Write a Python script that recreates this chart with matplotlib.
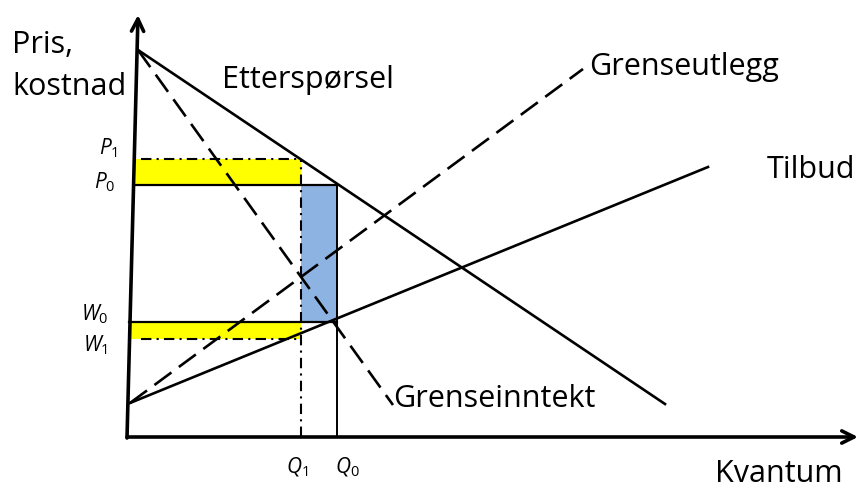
import matplotlib.pyplot as plt
from matplotlib.patches import Rectangle

plt.rcParams['font.family'] = ['Open Sans', 'DejaVu Sans']
plt.rcParams['mathtext.fontset'] = 'custom'
plt.rcParams['mathtext.it'] = 'Open Sans:italic'
plt.rcParams['mathtext.rm'] = 'Open Sans'

# kurver (x, y) - endepunkter i diagrammets enheter
demand_x = [10, 537]
demand_y = [387, 33]
mr_x = [10, 265]
mr_y = [387, 32]
supply_x = [2, 580]
supply_y = [34, 270]
me_x = [2, 455]
me_y = [34, 368]

# likevektsverdier
Q0, Q1 = 209, 173
P0, P1 = 252, 278
W0, W1 = 115, 98

yaxis_x = [0, 10]
yaxis_y = [0, 422]

fig = plt.figure(figsize=(8.62, 4.91), dpi=100)
ax = fig.add_axes([0, 0, 1, 1])
ax.set_xlim(-128, 734)
ax.set_ylim(-54, 437)
ax.axis('off')

# fargede felt
ax.add_patch(Rectangle((8, P0), Q1 - 8, P1 - P0, color='#FFFF00', lw=0, zorder=1))
ax.add_patch(Rectangle((1, W1), Q1 - 1, W0 - W1, color='#FFFF00', lw=0, zorder=1))
ax.add_patch(Rectangle((Q1, W0), Q0 - Q1, P0 - W0, color='#8DB3E2', lw=0, zorder=1))

# akser
ax.annotate('', xy=(yaxis_x[1], yaxis_y[1]), xytext=(yaxis_x[0] - 1, yaxis_y[0] - 1),
            arrowprops=dict(arrowstyle='->', lw=2.6, color='black',
                            mutation_scale=22, shrinkA=0, shrinkB=0))
ax.annotate('', xy=(730, 0), xytext=(-1, 0),
            arrowprops=dict(arrowstyle='->', lw=2.6, color='black',
                            mutation_scale=22, shrinkA=0, shrinkB=0))

lw = 1.9
ax.plot(demand_x, demand_y, color='black', lw=lw, zorder=3)
ax.plot(supply_x, supply_y, color='black', lw=lw, zorder=3)
ax.plot(mr_x, mr_y, color='black', lw=lw, dashes=(8, 3.5), zorder=3)
ax.plot(me_x, me_y, color='black', lw=lw, dashes=(8, 3.5), zorder=3)

# hjelpelinjer
ax.plot([8, Q0], [P0, P0], color='black', lw=1.6, zorder=2)
ax.plot([1, Q0], [W0, W0], color='black', lw=1.6, zorder=2)
ax.plot([Q0, Q0], [0, P0], color='black', lw=1.4, zorder=2)
dd = (5, 2.5, 1, 2.5)
ax.plot([13, Q1], [P1, P1], color='black', lw=1.5, dashes=dd, zorder=2)
ax.plot([13, Q1], [W1, W1], color='black', lw=1.5, dashes=dd, zorder=2)
ax.plot([Q1, Q1], [0, P1], color='black', lw=1.5, dashes=dd, zorder=2)

fs = 22
ax.text(-116, 384, 'Pris,', fontsize=fs, va='baseline', ha='left')
ax.text(-116, 342, 'kostnad', fontsize=fs, va='baseline', ha='left')
ax.text(94, 349, 'Etterspørsel', fontsize=fs, va='baseline')
ax.text(461, 362, 'Grenseutlegg', fontsize=fs, va='baseline')
ax.text(639, 259, 'Tilbud', fontsize=fs, va='baseline')
ax.text(265, 30, 'Grenseinntekt', fontsize=fs, va='baseline')
ax.text(587, -45, 'Kvantum', fontsize=fs, va='baseline')

ls = 15
ax.text(-10, P1 + 5, r'$P_{\mathit{1}}$', fontsize=ls, ha='right', va='baseline')
ax.text(-13, P0 - 3, r'$P_{\mathit{0}}$', fontsize=ls, ha='right', va='baseline')
ax.text(-20, W0 + 2, r'$W_{\mathit{0}}$', fontsize=ls, ha='right', va='baseline')
ax.text(-20, W1 - 12, r'$W_{\mathit{1}}$', fontsize=ls, ha='right', va='baseline')
ax.text(Q1 - 4, -36, r'$Q_{\mathit{1}}$', fontsize=ls, ha='center', va='baseline')
ax.text(Q0 + 10, -36, r'$Q_{\mathit{0}}$', fontsize=ls, ha='center', va='baseline')

fig.savefig('out.png', dpi=100)
